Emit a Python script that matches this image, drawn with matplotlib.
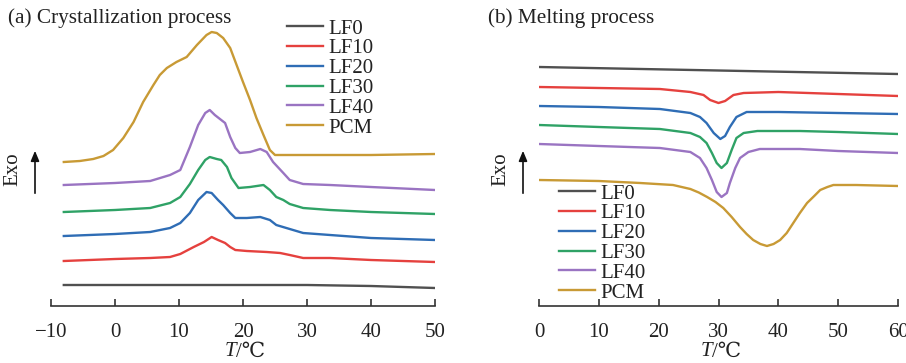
import matplotlib
matplotlib.use("Agg")
import matplotlib.pyplot as plt

plt.rcParams['font.family'] = ['Liberation Serif', 'DejaVu Serif']
plt.rcParams['axes.unicode_minus'] = True

labels = ["LF0", "LF10", "LF20", "LF30", "LF40", "PCM"]
colors = ["#505050", "#e5413e", "#2f6db5", "#2fa266", "#9a74c2", "#c89a35"]

# ---- (a) Crystallization: temperature (°C) and heat flow (a.u., offset) ----
c_LF0_T = [-8, 10, 20, 30, 40, 45, 50]
c_LF0_v = [2.1, 2.1, 2.1, 2.1, 2.0, 1.9, 1.8]
c_LF10_T = [-8, 0, 5.5, 8.6, 10.2, 12.3, 13.9, 15.1, 16.1, 17.2, 18.0, 18.8, 20.6, 23.7, 25.8, 27.3, 29.4, 33.6, 40, 50]
c_LF10_v = [4.5, 4.7, 4.8, 4.9, 5.2, 5.9, 6.4, 6.9, 6.6, 6.3, 5.9, 5.6, 5.5, 5.4, 5.3, 5.1, 4.8, 4.8, 4.6, 4.4]
c_LF20_T = [-8, 0, 5.5, 8.6, 10.2, 11.7, 13.0, 14.3, 15.1, 16.1, 16.9, 18.0, 18.8, 20.6, 22.7, 24.2, 25.2, 27.3, 29.4, 33.6, 40, 50]
c_LF20_v = [7.0, 7.2, 7.4, 7.8, 8.3, 9.3, 10.6, 11.4, 11.3, 10.6, 10.1, 9.3, 8.8, 8.8, 8.9, 8.6, 8.1, 7.7, 7.3, 7.1, 6.8, 6.6]
c_LF30_T = [-8, 0, 5.5, 8.6, 10.2, 11.7, 13.0, 14.1, 14.8, 15.9, 16.6, 17.5, 18.2, 19.3, 21.1, 23.2, 24.2, 25.2, 26.3, 27.3, 29.4, 33.6, 40, 50]
c_LF30_v = [9.4, 9.6, 9.8, 10.3, 10.9, 12.2, 13.6, 14.6, 14.9, 14.7, 14.6, 13.9, 12.8, 11.8, 11.9, 12.1, 11.6, 10.9, 10.6, 10.2, 9.8, 9.6, 9.4, 9.2]
c_LF40_T = [-8, 0, 5.5, 8.6, 10.2, 11.7, 13.0, 14.1, 14.8, 15.6, 16.4, 17.2, 18.0, 18.8, 19.5, 21.1, 22.7, 23.7, 24.7, 26.3, 27.3, 29.4, 33.6, 40, 50]
c_LF40_v = [12.1, 12.3, 12.5, 13.1, 13.6, 15.9, 18.1, 19.3, 19.6, 19.1, 18.7, 18.3, 16.9, 15.8, 15.3, 15.4, 15.7, 15.4, 14.4, 13.3, 12.6, 12.2, 12.1, 11.9, 11.6]
c_PCM_T = [-8, -5.5, -3.4, -1.8, -0.3, 1.3, 2.9, 4.4, 6.0, 7.0, 8.1, 9.6, 11.2, 12.8, 14.3, 15.1, 15.9, 16.9, 18.0, 19.0, 20.0, 21.1, 22.1, 23.2, 24.2, 25.0, 25.8, 30, 40, 50]
c_PCM_v = [14.4, 14.5, 14.7, 15.0, 15.6, 16.8, 18.4, 20.4, 22.1, 23.1, 23.8, 24.4, 24.9, 26.1, 27.1, 27.4, 27.3, 26.8, 25.8, 24.1, 22.4, 20.6, 18.8, 17.1, 15.6, 15.1, 15.1, 15.1, 15.1, 15.2]

# ---- (b) Melting ----
m_LF0_T = [0, 30, 60]
m_LF0_v = [23.9, 23.55, 23.2]
m_LF10_T = [0, 10, 20.2, 25.3, 27.5, 28.6, 30.0, 31.1, 32.5, 34.2, 40, 50, 60]
m_LF10_v = [21.9, 21.8, 21.7, 21.4, 21.1, 20.6, 20.3, 20.5, 21.1, 21.3, 21.4, 21.2, 21.0]
m_LF20_T = [0, 10, 20.2, 25.3, 26.9, 28.0, 29.2, 30.3, 31.1, 31.9, 33.0, 34.7, 40, 50, 60]
m_LF20_v = [20.0, 19.9, 19.7, 19.3, 18.9, 18.3, 17.3, 16.7, 17.0, 17.9, 18.9, 19.4, 19.4, 19.3, 19.2]
m_LF30_T = [0, 10, 20.2, 25.3, 26.9, 28.0, 28.9, 29.7, 30.5, 31.4, 32.2, 33.0, 34.2, 36.5, 43.6, 50, 60]
m_LF30_v = [18.1, 17.9, 17.7, 17.3, 16.9, 16.3, 15.3, 14.3, 13.8, 14.3, 15.6, 16.8, 17.3, 17.5, 17.5, 17.4, 17.2]
m_LF40_T = [0, 10, 20.2, 25.3, 26.9, 28.0, 28.9, 29.7, 30.5, 31.4, 31.9, 32.8, 33.6, 35.0, 36.9, 43.6, 50, 60]
m_LF40_v = [16.2, 16.0, 15.8, 15.4, 14.8, 13.8, 12.6, 11.4, 10.9, 11.3, 12.3, 13.8, 14.8, 15.4, 15.7, 15.7, 15.5, 15.3]
m_PCM_T = [0, 10, 16.9, 22.4, 25.3, 26.7, 28.1, 29.5, 30.8, 32.2, 33.6, 34.7, 35.8, 37.0, 38.1, 39.2, 40.3, 41.4, 42.5, 43.6, 44.8, 46.0, 47.0, 48.2, 49.2, 53, 60]
m_PCM_v = [12.6, 12.5, 12.3, 12.1, 11.7, 11.35, 10.9, 10.4, 9.8, 8.9, 7.9, 7.2, 6.6, 6.2, 6.0, 6.2, 6.6, 7.3, 8.3, 9.3, 10.3, 11.0, 11.6, 11.9, 12.1, 12.1, 12.0]

cryst = [(c_LF0_T, c_LF0_v), (c_LF10_T, c_LF10_v), (c_LF20_T, c_LF20_v),
         (c_LF30_T, c_LF30_v), (c_LF40_T, c_LF40_v), (c_PCM_T, c_PCM_v)]
melt = [(m_LF0_T, m_LF0_v), (m_LF10_T, m_LF10_v), (m_LF20_T, m_LF20_v),
        (m_LF30_T, m_LF30_v), (m_LF40_T, m_LF40_v), (m_PCM_T, m_PCM_v)]

a_xticks = [-10, 0, 10, 20, 30, 40, 50]
b_xticks = [0, 10, 20, 30, 40, 50, 60]

W, H = 906, 363
fig = plt.figure(figsize=(W / 100, H / 100), dpi=100)

def fx(x):
    return x / W

def fy(y):
    return 1 - y / H

FS = 15
axes_bottom = 306
axes_top = 25

def make_axes(x0, x1, xlim, xticks, series, title, title_x, leg_x, leg_y, exo_x, arrow_x, xlabel_x):
    ax = fig.add_axes([fx(x0), fy(axes_bottom), fx(x1 - x0), (axes_bottom - axes_top) / H])
    for (t, v), lab, col in zip(series, labels, colors):
        ax.plot(t, v, color=col, lw=1.7, label=lab, solid_joinstyle='round')
    ax.set_xlim(*xlim)
    ax.set_ylim(0, 28.1)
    for s in ['left', 'right', 'top']:
        ax.spines[s].set_visible(False)
    ax.spines['bottom'].set_color('#333333')
    ax.spines['bottom'].set_linewidth(1.2)
    ax.set_yticks([])
    ax.set_xticks(xticks)
    ax.tick_params(axis='x', direction='in', length=5, width=1.2, color='#333333',
                   labelsize=FS, pad=12, labelcolor='#222222')
    ax.patch.set_visible(False)
    fig.text(fx(title_x), fy(18), title, fontsize=FS + 0.3, ha='left', va='center', color='#222222')
    leg = ax.legend(loc='upper left', bbox_to_anchor=(fx(leg_x), fy(leg_y)),
                    bbox_transform=fig.transFigure, frameon=False, fontsize=FS,
                    handlelength=1.75, handletextpad=0.25, labelspacing=0.01,
                    borderaxespad=0, borderpad=0)
    for t in leg.get_texts():
        t.set_color('#222222')
    fig.text(fx(exo_x), fy(169), "Exo", rotation=90, fontsize=FS, ha='center', va='center', color='#222222')
    fig.add_artist(matplotlib.patches.FancyArrowPatch(
        (fx(arrow_x), fy(196)), (fx(arrow_x), fy(148)), transform=fig.transFigure,
        arrowstyle='-|>,head_length=6,head_width=2.5', color='#111111', lw=1.2))
    fig.text(fx(xlabel_x), fy(352), "T", fontsize=FS, style='italic', ha='right', va='center', color='#222222')
    fig.text(fx(xlabel_x), fy(352), "/\u2103", fontsize=FS, ha='left', va='center', color='#222222')
    return ax

make_axes(51, 435, (-10, 50), a_xticks, cryst, "(a) Crystallization process", 8, 287, 19, 13, 35, 236)
make_axes(539, 898, (0, 60), b_xticks, melt, "(b) Melting process", 488, 559, 184, 501, 523, 712)

fig.savefig("out.png", dpi=100)
